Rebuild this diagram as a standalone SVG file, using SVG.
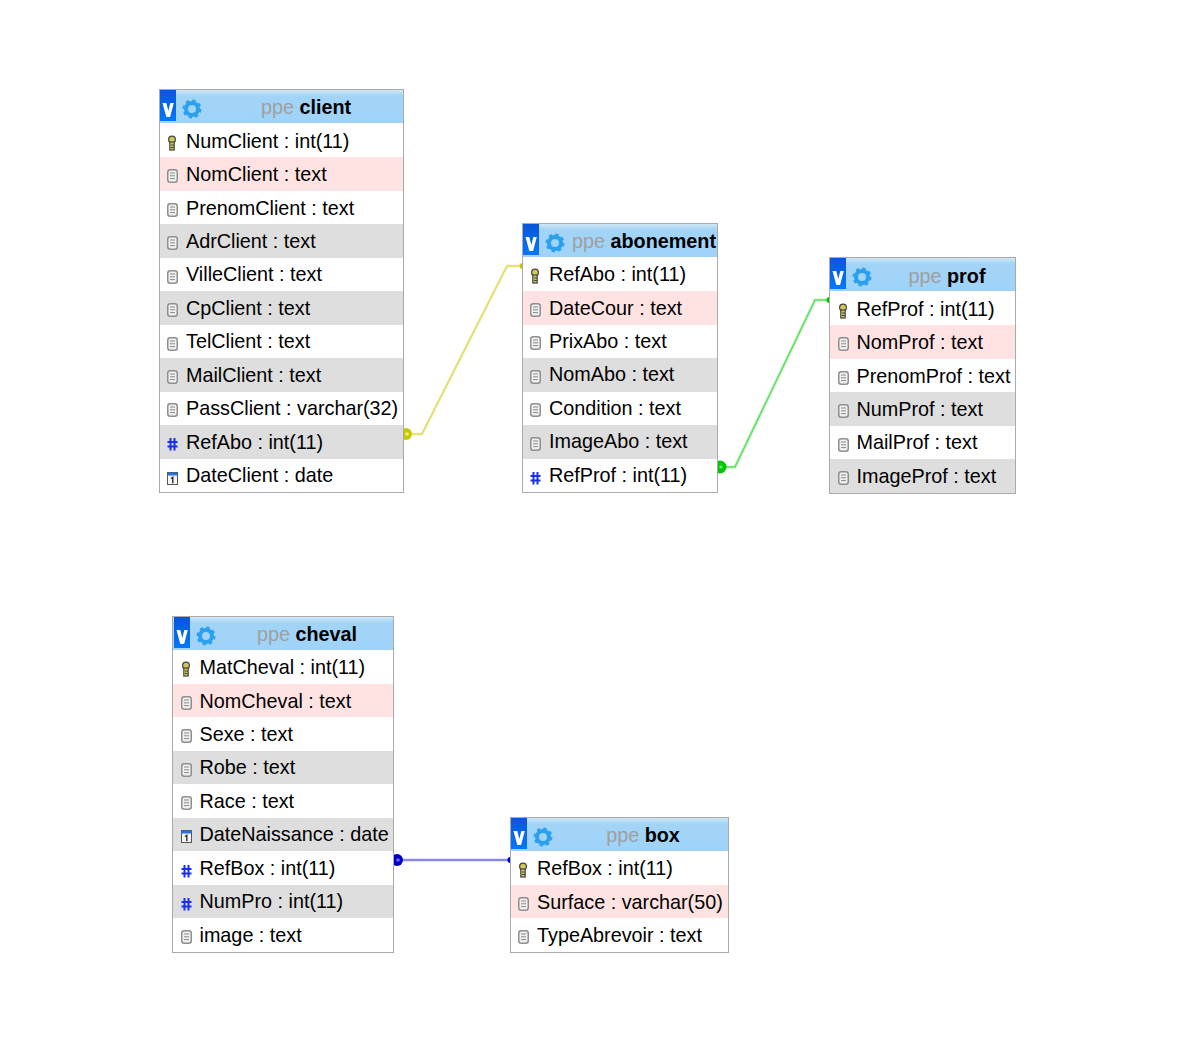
<svg xmlns="http://www.w3.org/2000/svg" width="1204" height="1064" viewBox="0 0 1204 1064">
<style>
text{font-family:"Liberation Sans",Arial,sans-serif;font-size:19.800px;fill:#000}
.t{text-anchor:middle}
.db{fill:#a0a0a0}
.n{font-weight:bold}
.box{fill:#fff;stroke:#aaa;stroke-width:1}
.p{fill:#ffe3e3}
.g{fill:#dedede}
.c{fill:none;stroke-width:1.500}
.h{fill:none;stroke-width:3;stroke-opacity:.3}
</style>
<defs>
<linearGradient id="hd" x1="0" y1="0" x2="0" y2="1"><stop offset="0" stop-color="#cfe8f8"/><stop offset=".18" stop-color="#a2d4f6"/><stop offset="1" stop-color="#9fd3f8"/></linearGradient>
<linearGradient id="tg" x1="0" y1="0" x2="0" y2="1"><stop offset="0" stop-color="#0a55d8"/><stop offset="1" stop-color="#0078ff"/></linearGradient>
<symbol id="head" overflow="visible">
<rect x="0" y="0" width="16" height="31" fill="url(#tg)"/>
<path d="M2.500 13h3.800l2 8 2-8h3.500l-3.700 14h-3.800z" fill="#fff"/>
<circle cx="32" cy="19" r="6" fill="none" stroke="#2aa0ee" stroke-width="4"/>
<circle cx="32" cy="19" r="8.500" fill="none" stroke="#2aa0ee" stroke-width="2" stroke-dasharray="3.340 3.340"/>
</symbol>
<symbol id="key" overflow="visible">
<circle cx="4" cy="3.500" r="3.400" fill="#cfc95a" stroke="#444" stroke-width="1.200"/>
<rect x="1.800" y="6" width="4.400" height="8" fill="#cfc95a" stroke="#444" stroke-width="1.200"/>
<path d="M3 9h3M3 11.500h3" stroke="#444"/>
</symbol>
<symbol id="fld" overflow="visible">
<rect x="0.750" y="0.750" width="9.500" height="12.500" rx="2.500" fill="#f0f0f0" stroke="#8f8f8f" stroke-width="1.500"/>
<path d="M3 4h5M3 6.800h5M3 9.600h5" stroke="#8a8a8a"/>
</symbol>
<symbol id="hash" overflow="visible">
<path d="M3.500 0v12.500M7.500 0v12.500M0.500 4h10M0.500 8.500h10" stroke="#1a2ff0" stroke-width="2" fill="none"/>
</symbol>
<symbol id="dat" overflow="visible">
<rect x="0.500" y="0.500" width="10" height="12" fill="#f4f4f4" stroke="#555"/>
<rect x="0.500" y="0.500" width="10" height="3" fill="#2a70d8"/>
<path d="M4 6.500l1.800-1.200v6" stroke="#222" fill="none" stroke-width="1.300"/>
</symbol>
</defs>

<g id="connectors">
<path class="h" stroke="#d8d850" d="M404 434H422L507 266H522"/>
<path class="c" stroke="#dede60" d="M404 434H422L507 266H522"/>
<circle cx="406" cy="434" r="6" fill="#c8c800"/><circle cx="407" cy="434" r="1.800" fill="#eeee70"/>
<circle cx="522.500" cy="266" r="3" fill="#c8c800"/>
<path class="h" stroke="#40d840" d="M718 467H735L815 300H829"/>
<path class="c" stroke="#60e060" d="M718 467H735L815 300H829"/>
<circle cx="720" cy="467" r="6.500" fill="#00c800"/><circle cx="721" cy="467" r="1.800" fill="#66e066"/>
<circle cx="829.500" cy="300" r="3" fill="#00c800"/>
<path class="h" stroke="#5050e0" stroke-width="4" d="M394 860H510"/>
<path class="c" stroke="#7070ea" stroke-width="2" d="M394 860H510"/>
<circle cx="397" cy="860" r="6" fill="#0000c8"/><circle cx="398" cy="860" r="1.800" fill="#6a6aee"/>
<circle cx="510.500" cy="860" r="3" fill="#0000c8"/>
</g>

<g id="client">
<rect class="box" x="159.500" y="89.500" width="244" height="403"/>
<rect x="160" y="90" width="243" height="33" fill="url(#hd)"/>
<use href="#head" x="160" y="90"/>
<text class="t" x="306" y="114"><tspan class="db">ppe</tspan> <tspan class="n">client</tspan></text>
<rect class="p" x="160" y="157" width="243" height="34"/>
<rect class="g" x="160" y="224" width="243" height="34"/>
<rect class="g" x="160" y="291" width="243" height="34"/>
<rect class="g" x="160" y="358" width="243" height="34"/>
<rect class="g" x="160" y="425" width="243" height="34"/>
<use href="#key" x="168" y="136"/><text x="186" y="148">NumClient : int(11)</text>
<use href="#fld" x="167" y="169"/><text x="186" y="181">NomClient : text</text>
<use href="#fld" x="167" y="203"/><text x="186" y="215">PrenomClient : text</text>
<use href="#fld" x="167" y="236"/><text x="186" y="248">AdrClient : text</text>
<use href="#fld" x="167" y="270"/><text x="186" y="281">VilleClient : text</text>
<use href="#fld" x="167" y="303"/><text x="186" y="315">CpClient : text</text>
<use href="#fld" x="167" y="337"/><text x="186" y="348">TelClient : text</text>
<use href="#fld" x="167" y="370"/><text x="186" y="382">MailClient : text</text>
<use href="#fld" x="167" y="403"/><text x="186" y="415">PassClient : varchar(32)</text>
<use href="#hash" x="167" y="438"/><text x="186" y="449">RefAbo : int(11)</text>
<use href="#dat" x="167" y="472"/><text x="186" y="482">DateClient : date</text>
</g>

<g id="abonement">
<rect class="box" x="522.500" y="223.500" width="195" height="269"/>
<rect x="523" y="224" width="194" height="33" fill="url(#hd)"/>
<use href="#head" x="523" y="224"/>
<text class="t" x="644" y="248"><tspan class="db">ppe</tspan> <tspan class="n">abonement</tspan></text>
<rect class="p" x="523" y="291" width="194" height="34"/>
<rect class="g" x="523" y="358" width="194" height="34"/>
<rect class="g" x="523" y="425" width="194" height="34"/>
<use href="#key" x="531" y="269"/><text x="549" y="281">RefAbo : int(11)</text>
<use href="#fld" x="530" y="303"/><text x="549" y="315">DateCour : text</text>
<use href="#fld" x="530" y="336"/><text x="549" y="348">PrixAbo : text</text>
<use href="#fld" x="530" y="370"/><text x="549" y="381">NomAbo : text</text>
<use href="#fld" x="530" y="403"/><text x="549" y="415">Condition : text</text>
<use href="#fld" x="530" y="437"/><text x="549" y="448">ImageAbo : text</text>
<use href="#hash" x="530" y="472"/><text x="549" y="482">RefProf : int(11)</text>
</g>

<g id="prof">
<rect class="box" x="829.500" y="257.500" width="186" height="236"/>
<rect x="830" y="258" width="185" height="33" fill="url(#hd)"/>
<use href="#head" x="830" y="258"/>
<text class="t" x="947" y="283"><tspan class="db">ppe</tspan> <tspan class="n">prof</tspan></text>
<rect class="p" x="830" y="325" width="185" height="34"/>
<rect class="g" x="830" y="392" width="185" height="34"/>
<rect class="g" x="830" y="459" width="185" height="34"/>
<use href="#key" x="839" y="304"/><text x="856.500" y="316">RefProf : int(11)</text>
<use href="#fld" x="838" y="337"/><text x="856.500" y="349">NomProf : text</text>
<use href="#fld" x="838" y="371"/><text x="856.500" y="383">PrenomProf : text</text>
<use href="#fld" x="838" y="404"/><text x="856.500" y="416">NumProf : text</text>
<use href="#fld" x="838" y="438"/><text x="856.500" y="449">MailProf : text</text>
<use href="#fld" x="838" y="471"/><text x="856.500" y="483">ImageProf : text</text>
</g>

<g id="cheval">
<rect class="box" x="172.500" y="616.500" width="221" height="336"/>
<rect x="173" y="617" width="220" height="33" fill="url(#hd)"/>
<use href="#head" x="174" y="617"/>
<text class="t" x="307" y="641"><tspan class="db">ppe</tspan> <tspan class="n">cheval</tspan></text>
<rect class="p" x="173" y="684" width="220" height="33"/>
<rect class="g" x="173" y="751" width="220" height="33"/>
<rect class="g" x="173" y="818" width="220" height="33"/>
<rect class="g" x="173" y="885" width="220" height="33"/>
<use href="#key" x="182" y="662"/><text x="199.500" y="674">MatCheval : int(11)</text>
<use href="#fld" x="181" y="696"/><text x="199.500" y="708">NomCheval : text</text>
<use href="#fld" x="181" y="729"/><text x="199.500" y="741">Sexe : text</text>
<use href="#fld" x="181" y="763"/><text x="199.500" y="774">Robe : text</text>
<use href="#fld" x="181" y="796"/><text x="199.500" y="808">Race : text</text>
<use href="#dat" x="181" y="830"/><text x="199.500" y="841">DateNaissance : date</text>
<use href="#hash" x="181" y="865"/><text x="199.500" y="875">RefBox : int(11)</text>
<use href="#hash" x="181" y="898"/><text x="199.500" y="908">NumPro : int(11)</text>
<use href="#fld" x="181" y="930"/><text x="199.500" y="942">image : text</text>
</g>

<g id="box">
<rect class="box" x="510.500" y="817.500" width="218" height="135"/>
<rect x="511" y="818" width="217" height="33" fill="url(#hd)"/>
<use href="#head" x="511" y="818"/>
<text class="t" x="643" y="842"><tspan class="db">ppe</tspan> <tspan class="n">box</tspan></text>
<rect class="p" x="511" y="885" width="217" height="33"/>
<use href="#key" x="519" y="863"/><text x="537" y="875">RefBox : int(11)</text>
<use href="#fld" x="518" y="897"/><text x="537" y="909">Surface : varchar(50)</text>
<use href="#fld" x="518" y="930"/><text x="537" y="942">TypeAbrevoir : text</text>
</g>
</svg>
